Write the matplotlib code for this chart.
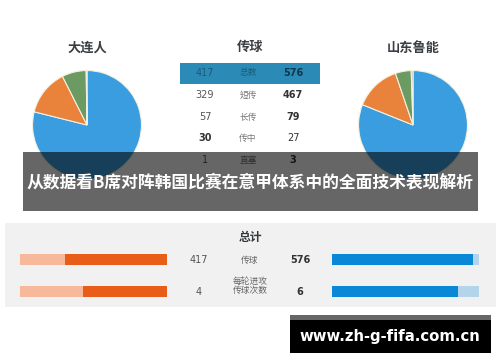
import matplotlib
matplotlib.use("Agg")
import matplotlib.pyplot as plt
from matplotlib.patches import Rectangle

plt.rcParams['font.family'] = ['Noto Sans CJK SC', 'DejaVu Sans']

# ---- data ----
team_left = "大连人"
team_right = "山东鲁能"
table_title = "传球"
pass_types = ["总数", "短传", "长传", "传中", "直塞"]
left_vals = [417, 329, 57, 30, 1]
right_vals = [576, 467, 79, 27, 3]
pie_colors = ["#3a9de0", "#e9823a", "#6b9b62", "#b5b5b5"]

total_title = "总计"
total_labels = ["传球", "每轮进攻\n传球次数"]
total_left = [417, 4]
total_right = [576, 6]
total_scale = [600, 7]

headline = "从数据看B席对阵韩国比赛在意甲体系中的全面技术表现解析"
watermark = "www.zh-g-fifa.com.cn"

W, H = 500, 362
fig = plt.figure(figsize=(W / 100, H / 100), dpi=100)
fig.patch.set_facecolor("white")

def fr(x0, y0, x1, y1):
    return [x0 / W, 1 - y1 / H, (x1 - x0) / W, (y1 - y0) / H]

# base axes in pixel coordinates
base = fig.add_axes([0, 0, 1, 1], zorder=0)
base.set_xlim(0, W)
base.set_ylim(H, 0)
base.axis("off")

# titles
base.text(87, 48, team_left, ha="center", va="center", fontsize=9.5, fontweight="bold", color="#3a3f44")
base.text(413, 48, team_right, ha="center", va="center", fontsize=9.5, fontweight="bold", color="#3a3f44")
base.text(250, 47, table_title, ha="center", va="center", fontsize=9.5, fontweight="bold", color="#3a3f44")

# table
base.add_patch(Rectangle((180, 63), 140, 21, facecolor="#2b8bb6", edgecolor="none"))
row_y = [73, 95, 117, 138, 160]
for i, (lab, lv, rv) in enumerate(zip(pass_types, left_vals, right_vals)):
    y = row_y[i]
    if i == 0:
        lc, mc, rc = "#1c5a78", "#1c5a78", "#10374a"
    else:
        lc, mc, rc = "#555555", "#777777", "#333333"
    base.text(205, y, str(lv), ha="center", va="center", fontsize=7,
              color=("#333333" if (lv > rv and i) else lc),
              fontweight=("bold" if lv > rv else "normal"), family="DejaVu Sans")
    base.text(248, y, lab, ha="center", va="center", fontsize=6.3, color=mc)
    base.text(293, y, str(rv), ha="center", va="center", fontsize=7, color=rc,
              fontweight=("bold" if rv > lv else "normal"), family="DejaVu Sans")

# pies
for cx, vals in [(87, left_vals[1:]), (413, right_vals[1:])]:
    r = 55
    pax = fig.add_axes(fr(cx - r, 125 - r, cx + r, 125 + r), zorder=1)
    pax.pie(vals, colors=pie_colors, startangle=90, counterclock=False,
            wedgeprops=dict(edgecolor="#f4f0e0", linewidth=0.8))
    pax.set_xlim(-1.01, 1.01)
    pax.set_ylim(-1.01, 1.01)
    pax.set_aspect("equal")
    pax.axis("off")

# bottom panel
base.add_patch(Rectangle((5, 223), 491, 84, facecolor="#f1f1f1", edgecolor="none"))
base.text(250, 238, total_title, ha="center", va="center", fontsize=8.5, fontweight="bold", color="#333a40")
bar_y = [260, 292]
for i in range(len(total_labels)):
    y = bar_y[i]
    base.text(199, y, str(total_left[i]), ha="center", va="center", fontsize=7, color="#555555", family="DejaVu Sans")
    base.text(300, y, str(total_right[i]), ha="center", va="center", fontsize=7, color="#333333",
              fontweight="bold", family="DejaVu Sans")
    ly = y if i == 0 else y - 6
    base.text(250, ly, total_labels[i], ha="center", va="center", fontsize=6.3, color="#666666",
              linespacing=1.1)

# bar axes
lax = fig.add_axes(fr(20, 250, 167, 302), zorder=1)
rax = fig.add_axes(fr(332, 250, 479, 302), zorder=1)
for ax in (lax, rax):
    ax.set_xlim(0, 1)
    ax.set_ylim(302, 250)
    ax.axis("off")
lax.invert_xaxis()
for i in range(len(total_labels)):
    y = bar_y[i]
    lax.barh(y, 1, height=11, color="#f7b99c")
    lax.barh(y, total_left[i] / total_scale[i], height=11, color="#e85d17")
    rax.barh(y, 1, height=11, color="#b3d4ea")
    rax.barh(y, total_right[i] / total_scale[i], height=11, color="#0a88d8")

# overlay
top = fig.add_axes([0, 0, 1, 1], zorder=5)
top.set_xlim(0, W)
top.set_ylim(H, 0)
top.axis("off")
top.patch.set_alpha(0)
top.add_patch(Rectangle((23, 152), 455, 59, facecolor="black", alpha=0.6, edgecolor="none"))
top.text(250, 182, headline, ha="center", va="center", fontsize=12.1, fontweight="bold", color="white")

top.add_patch(Rectangle((290, 315), 201, 38, facecolor="black", edgecolor="none"))
top.add_patch(Rectangle((290, 315), 201, 4.5, facecolor="#666666", edgecolor="none"))
top.text(390, 337, watermark, ha="center", va="center", fontsize=10.7, fontweight="bold",
         color="white", family="DejaVu Sans")

fig.savefig("out.png", dpi=100, facecolor="white")
